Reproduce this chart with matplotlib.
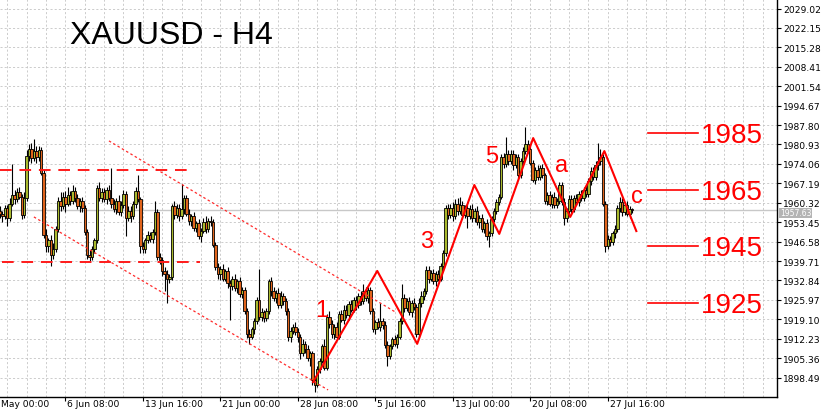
import matplotlib
matplotlib.use("Agg")
import matplotlib.pyplot as plt
from matplotlib.transforms import blended_transform_factory

# H4 candles, one value per bar (bar 0 = first bar on the left)
first_open = 1957.5
closes = [
    1956.5, 1955.5, 1958.5, 1955, 1960, 1963, 1961.5, 1964, 1962.5, 1956,
    1962, 1977, 1979.5, 1976, 1978.5, 1976.5, 1979, 1971, 1949, 1945,
    1947, 1942, 1944, 1951, 1961, 1959, 1962.5, 1960, 1963, 1961,
    1964.5, 1962, 1959, 1961, 1958.5, 1950, 1942, 1941, 1944, 1947,
    1965.5, 1962, 1964, 1961.5, 1965, 1962, 1960, 1958, 1961, 1957,
    1959.5, 1963.5, 1955, 1957.5, 1955.5, 1960, 1964.5, 1961.5, 1945, 1944,
    1947, 1949, 1947.5, 1950, 1957, 1941, 1940, 1936, 1935, 1933.5,
    1934, 1959, 1956, 1958.5, 1955.5, 1958, 1962, 1956.5, 1954, 1955.5,
    1951.5, 1953, 1948.5, 1950.5, 1953.5, 1951, 1954, 1953.5, 1945.5, 1937.5,
    1935, 1937, 1933.5, 1936, 1932, 1931, 1933.5, 1930, 1932.5, 1928,
    1929.5, 1922, 1914, 1913, 1915.5, 1918.5, 1926, 1920, 1921.5, 1919.5,
    1922, 1932.5, 1929, 1926.5, 1928.5, 1924, 1927.5, 1925.5, 1922, 1913,
    1915, 1916.5, 1914.5, 1913, 1907, 1910.5, 1908.5, 1905.5, 1907, 1897.5,
    1896, 1901.5, 1904.5, 1909.5, 1902, 1920, 1917.5, 1914, 1916.5, 1913,
    1921, 1919, 1922.5, 1920.5, 1924.5, 1922.5, 1926, 1924, 1927.5, 1925.5,
    1929, 1926.5, 1929.5, 1922, 1915.5, 1918, 1916.5, 1918.5, 1917, 1910,
    1906, 1909.5, 1912, 1910.5, 1913, 1918.5, 1926.5, 1923, 1925.5, 1921.5,
    1925, 1923.5, 1914, 1925, 1927.5, 1929, 1936.5, 1933.5, 1935.5, 1932.5,
    1935, 1933.5, 1938, 1942.5, 1958.5, 1956, 1958.5, 1955.5, 1960, 1957.5,
    1959.5, 1956, 1958.5, 1955.5, 1958, 1955, 1957.5, 1953.5, 1955, 1951,
    1953, 1948.5, 1949.5, 1954.5, 1957.5, 1960.5, 1962.5, 1976.5, 1974, 1977.5,
    1975, 1977.5, 1973.5, 1976.5, 1970, 1975, 1978.5, 1981, 1979.5, 1974.5,
    1968.5, 1972, 1969.5, 1972.5, 1970, 1961, 1963, 1960, 1962.5, 1959.5,
    1961, 1966.5, 1960.5, 1955, 1957.5, 1961.5, 1958, 1962, 1960.5, 1963.5,
    1962, 1965, 1963.5, 1968, 1971.5, 1969.5, 1973.5, 1975, 1976.5, 1960,
    1945, 1947.5, 1946.5, 1949.5, 1951, 1958.5, 1960.5, 1957, 1959.5, 1956.5,
    1958, 1957.6,
]
# wick length above / below the body, in dollars
upper_wick = [
    1.5, 1, 1, 1, 2, 11, 2, 1.5, 2, 1,
    2, 2, 1.5, 2, 4.5, 2, 1.5, 1, 1, 2,
    1, 2, 2, 1, 1.5, 3, 1.5, 2, 3, 1.5,
    2, 1.5, 1.5, 1, 1.5, 1, 1, 1.5, 1, 1,
    1, 2, 1.5, 1.5, 1, 1.5, 10.5, 1.5, 1, 2,
    1.5, 1.5, 1, 1.5, 1.5, 1, 1.5, 5.5, 1, 1.5,
    1, 1.5, 1, 1, 4, 1, 1.5, 1, 1.5, 1.5,
    1, 1, 2, 1.5, 1.5, 9, 1, 1, 1.5, 1,
    1.5, 1, 1.5, 1, 1.5, 2, 1, 1.5, 1, 1,
    1.5, 1, 1.5, 1, 1.5, 1, 1, 1.5, 1, 1.5,
    1, 1, 1, 1.5, 1, 1, 1, 11, 1.5, 1,
    1, 1, 1.5, 1.5, 1, 1.5, 1.5, 1, 1, 1,
    1.5, 1, 1.5, 1.5, 1, 1.5, 1, 1.5, 1, 1,
    1.5, 1, 1, 1, 2.5, 1, 2, 1.5, 1, 1.5,
    1, 1.5, 1.5, 1.5, 1, 1.5, 1, 1.5, 1, 1.5,
    2.5, 1.5, 1, 1, 1, 1, 1.5, 6.5, 1, 1.5,
    1.5, 1, 1, 1.5, 1, 1, 5, 1.5, 1, 1.5,
    1, 1.5, 1, 1.5, 1.5, 1, 1.5, 1.5, 1, 1.5,
    1, 1.5, 1, 1, 1, 1.5, 1.5, 2, 1.5, 2,
    3, 1.5, 1, 1.5, 1.5, 2, 1, 1.5, 1, 1.5,
    1, 1.5, 1, 1, 1, 1, 1, 1, 1.5, 6,
    1.5, 1.5, 1.5, 1, 1, 1, 1.5, 6, 1.5, 1,
    1, 1, 1.5, 1, 1.5, 1, 1, 1.5, 1, 1.5,
    1, 1, 1, 1.5, 1, 1.5, 1.5, 1, 1.5, 1,
    1.5, 1, 1.5, 1, 1.5, 1.5, 1.5, 6.5, 3, 1,
    1, 1.5, 1, 1, 1.5, 1, 2, 1.5, 1, 1.5,
    1, 0.5,
]
lower_wick = [
    1.5, 2, 1, 3, 1, 1, 1.5, 1, 1, 1.5,
    1, 1, 2, 1.5, 1, 2, 1.5, 1, 1, 2,
    2, 4, 1.5, 1, 1, 1.5, 1, 3, 1, 1.5,
    1, 1.5, 1, 2, 1.5, 1, 1.5, 1.5, 1, 1.5,
    1, 1, 1.5, 1, 1.5, 1, 1.5, 1, 1.5, 1,
    1.5, 1, 6.5, 1, 2, 1, 1.5, 1, 2.5, 1.5,
    1.5, 1, 1, 1.5, 1, 1, 1.5, 1.5, 6, 8.5,
    1.5, 1, 1.5, 1, 1.5, 1, 1.5, 1, 1.5, 2,
    1, 1.5, 1, 2, 1, 1.5, 1, 1.5, 1, 1,
    1.5, 2, 1, 1, 2, 12, 1.5, 1, 1.5, 1,
    1.5, 1, 1.5, 2.5, 1, 1.5, 1, 1, 1.5, 1.5,
    1, 1, 1.5, 1, 1.5, 1, 1, 1.5, 1.5, 1.5,
    2, 1, 1, 2, 2, 1, 1.5, 1, 3, 1.5,
    2.5, 1, 1.5, 1, 1, 1, 1.5, 1.5, 2, 1,
    1, 1, 1.5, 1, 1.5, 1, 1, 1.5, 1, 1.5,
    1, 1, 1.5, 1, 1, 1.5, 1, 1.5, 1.5, 1,
    3.5, 1, 1, 1, 1.5, 1, 1, 1.5, 1, 1,
    1.5, 1, 1, 1, 1.5, 1.5, 1, 1.5, 1, 1,
    1.5, 1, 1, 1.5, 1, 1.5, 1, 1.5, 1, 1.5,
    1, 1.5, 1, 4, 1, 1.5, 1.5, 1, 2, 1,
    1.5, 1.5, 4, 1, 1, 1, 1, 1, 1.5, 1,
    1.5, 1, 1.5, 1, 1, 1, 1, 1, 1.5, 1,
    1, 1.5, 1, 1, 1, 1, 1.5, 1, 1.5, 1,
    1, 1, 1, 2.5, 1.5, 1, 1.5, 1, 1, 1.5,
    1, 1, 1, 1, 1.5, 1, 1, 1.5, 1.5, 1,
    2, 1, 1.5, 1, 1.5, 1, 1.5, 1.5, 1, 1,
    1.5, 1,
]
last_price = 1957.63

# axis labels
price_ticks = [1898.49, 1905.36, 1912.23, 1919.10, 1925.97, 1932.84, 1939.71,
               1946.58, 1953.45, 1960.32, 1967.19, 1974.06, 1980.93, 1987.80,
               1994.67, 2001.54, 2008.41, 2015.28, 2022.15, 2029.02]
date_bars = [-5, 27, 59, 91, 123, 155, 187, 219, 251]
# first label is cut by the left edge in the terminal, only "May 00:00" shows
date_labels = ["May 00:00", "6 Jun 08:00", "13 Jun 16:00", "21 Jun 00:00",
               "28 Jun 08:00", "5 Jul 16:00", "13 Jul 00:00", "20 Jul 08:00",
               "27 Jul 16:00"]

# drawn analysis
wave_bars = [129.3, 155.8, 172.3, 195.9, 206.2, 220.2, 235.5, 249.6, 262.8]
wave_prices = [1896.9, 1936.2, 1910.4, 1966.6, 1949.3, 1983.2, 1955.3, 1978.6, 1950.3]
wave_names = ["1", "3", "5", "a", "c"]
wave_name_bars = [133.0, 176.4, 202.9, 231.8, 263.2]
wave_name_prices = [1922.4, 1946.8, 1976.9, 1973.7, 1962.7]
channel_upper = ([45.0, 163.2], [1982.2, 1921.7])
channel_lower = ([14.0, 135.5], [1955.3, 1894.1])
range_high = (1971.9, 0, 77.7)
range_low = (1939.4, 1, 82.6)
target_levels = [1985, 1965, 1945, 1925]

opens = [first_open] + closes[:-1]
highs = [max(o, c) + w for o, c, w in zip(opens, closes, upper_wick)]
lows = [min(o, c) - w for o, c, w in zip(opens, closes, lower_wick)]
bars = list(range(len(closes)))

fig = plt.figure(figsize=(8.32, 4.10), dpi=100)
ax = fig.add_axes([0, 12 / 410, 777 / 832, 398 / 410])
ax.set_xlim(0, 320.9)
ax.set_ylim(1891.6, 2032.4)

# grid like the terminal: dotted gray every 8 bars and at every price tick
grid_kw = dict(color="#c4c4c4", lw=0.6, ls=(0, (2.5, 2.5)), zorder=0)
for b in range(3, 321, 8):
    ax.axvline(b, **grid_kw)
for p in price_ticks:
    ax.axhline(p, **grid_kw)
ax.axhline(last_price, color="#c8c8c8", lw=1, zorder=1)

# candles
ax.vlines(bars, lows, highs, color="black", lw=0.8, zorder=2)
body_h = [max(abs(c - o), 0.3) for o, c in zip(opens, closes)]
body_b = [min(o, c) for o, c in zip(opens, closes)]
body_c = ["#a9b92e" if c >= o else "#e0641c" for o, c in zip(opens, closes)]
ax.bar(bars, body_h, bottom=body_b, width=1.0, color=body_c,
       edgecolor="black", linewidth=0.6, zorder=3)

# channel and range lines
ax.plot(*channel_upper, color="#ff2a2a", lw=0.9, ls=(0, (2, 2)), zorder=4)
ax.plot(*channel_lower, color="#ff2a2a", lw=0.9, ls=(0, (2, 2)), zorder=4)
for price, b0, b1 in (range_high, range_low):
    ax.plot([b0, b1], [price, price], color="#ff1a1a", lw=1.4,
            ls=(0, (6, 4)), zorder=4)

# elliott wave count
ax.plot(wave_bars, wave_prices, color="#ff0000", lw=1.5, zorder=5)
for name, b, p in zip(wave_names, wave_name_bars, wave_name_prices):
    ax.text(b, p, name, color="#ff0000", fontsize=17, family="Liberation Sans",
            ha="center", va="center", zorder=6)

# target levels on the right
for lvl in target_levels:
    ax.plot([267.8, 288.4], [lvl, lvl], color="#ff0000", lw=1.2, zorder=5)
    ax.text(289.3, lvl - 0.8, str(lvl), color="#ff0000", fontsize=20,
            family="Liberation Sans", ha="left", va="center", zorder=6)

# axes styling
for side in ("top", "left"):
    ax.spines[side].set_visible(False)
for side in ("right", "bottom"):
    ax.spines[side].set_linewidth(1.0)
ax.yaxis.tick_right()
ax.set_yticks(price_ticks)
ax.set_yticklabels([f"{p:.2f}" for p in price_ticks])
ax.tick_params(axis="y", length=3, width=0.8, pad=1.5, labelsize=6.6)
ax.set_xticks([b for b in date_bars if b >= 0])
ax.set_xticklabels([])
ax.tick_params(axis="x", length=3, width=0.8)

tr = blended_transform_factory(ax.transData, ax.transAxes)
for b, lab in zip(date_bars, date_labels):
    x = 0.3 if b < 0 else b + 0.8
    ax.text(x, -0.006, lab, transform=tr, fontsize=6.6, ha="left",
            va="top", clip_on=False)

ax.text(1.004, last_price - 0.9, f"{last_price:.2f}",
        transform=blended_transform_factory(ax.transAxes, ax.transData),
        fontsize=5.5, color="white", ha="left", va="center",
        bbox=dict(boxstyle="square,pad=0.1", fc="#b4b4b4", ec="none"), clip_on=False)

fig.text(70 / 832, 1 - 36 / 410, "XAUUSD - H4", fontsize=23, family="Liberation Sans",
         color="black", ha="left", va="center")

fig.savefig("out.png", dpi=100, facecolor="white")
